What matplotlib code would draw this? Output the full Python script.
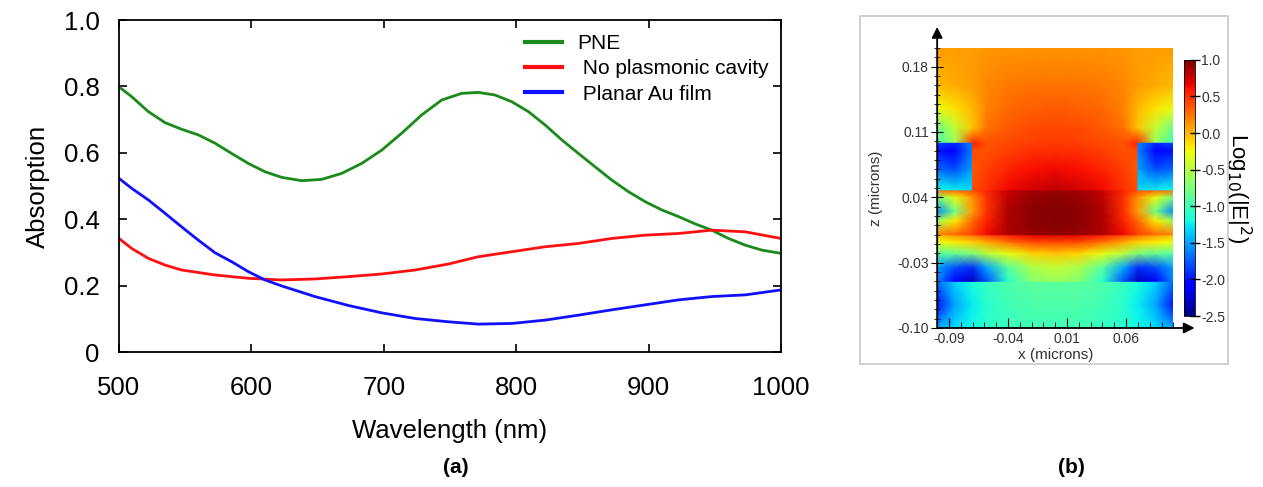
import matplotlib.pyplot as plt
import numpy as np
from matplotlib.patches import Rectangle
from matplotlib.ticker import MultipleLocator

plt.rcParams['font.family'] = ['Liberation Sans', 'DejaVu Sans']

# ---- panel (a): absorption spectra ----
wl_pne = [500, 509.6, 522.2, 534.7, 547.3, 559.9, 572.5, 585.1, 597.7, 610.3,
          622.9, 638, 653.1, 668.2, 683.3, 698.4, 713.5, 728.6, 743.7, 758.8,
          771.4, 784, 796.6, 809.2, 821.8, 834.4, 847, 859.5, 872.1, 884.7,
          897.3, 909.9, 922.5, 935.1, 947.7, 960.3, 972.9, 985.4, 1000]
abs_pne = [0.799, 0.769, 0.724, 0.691, 0.671, 0.654, 0.629, 0.598, 0.568, 0.543,
           0.526, 0.516, 0.520, 0.538, 0.568, 0.608, 0.659, 0.714, 0.759, 0.779,
           0.782, 0.774, 0.754, 0.724, 0.684, 0.639, 0.598, 0.558, 0.518, 0.483,
           0.453, 0.428, 0.408, 0.386, 0.367, 0.342, 0.322, 0.307, 0.297]

wl_nocav = [500, 509.6, 522.2, 534.7, 547.3, 572.5, 597.7, 622.9, 648, 673.4,
            698.4, 723.6, 748.8, 771.4, 796.6, 821.8, 847, 872.1, 897.3, 922.5,
            947.7, 972.9, 1000]
abs_nocav = [0.342, 0.312, 0.282, 0.262, 0.247, 0.232, 0.222, 0.217, 0.220,
             0.227, 0.235, 0.247, 0.265, 0.287, 0.302, 0.317, 0.327, 0.342,
             0.352, 0.357, 0.367, 0.362, 0.342]

wl_planar = [500, 509.6, 522.2, 534.7, 547.3, 559.9, 572.5, 585.1, 597.7, 610.3,
             622.9, 648, 673.4, 698.4, 723.6, 748.8, 771.4, 796.6, 821.8, 847,
             872.1, 897.3, 922.5, 947.7, 972.9, 1000]
abs_planar = [0.523, 0.493, 0.458, 0.418, 0.377, 0.337, 0.299, 0.272, 0.242,
              0.217, 0.199, 0.167, 0.140, 0.118, 0.101, 0.091, 0.084, 0.086,
              0.096, 0.111, 0.127, 0.142, 0.157, 0.167, 0.172, 0.187]

series_labels = ['PNE', ' No plasmonic cavity', ' Planar Au film']
series_colors = ['#1a8a1a', '#ff1010', '#1010ff']

# ---- panel (b): log10(|E|^2) field map, sampled on a coarse grid ----
# left half of the cell; the right half is the mirror image
x_half = [-0.1, -0.085, -0.07, -0.07, -0.058, -0.04, -0.02, 0.0]
z_nodes = [-0.1, -0.075, -0.05, -0.05, -0.035, -0.02, -0.008, 0.0, 0.0,
           0.015, 0.025, 0.04, 0.048, 0.048, 0.07, 0.09, 0.099, 0.099,
           0.115, 0.135, 0.16, 0.2]
field_half = [
    [-1.5, -1.3, -1.2, -1.2, -1.1, -1.05, -1.0, -1.0],
    [-2.0, -1.5, -1.25, -1.25, -1.1, -1.0, -0.95, -0.95],
    [-1.7, -1.35, -1.15, -1.15, -1.05, -0.95, -0.9, -0.9],
    [-1.6, -2.1, -2.3, -2.3, -1.8, -1.1, -0.7, -0.6],
    [-1.5, -1.8, -1.9, -1.9, -1.5, -0.9, -0.55, -0.45],
    [-0.9, -0.85, -0.75, -0.75, -0.5, -0.3, -0.1, -0.05],
    [-0.3, -0.2, -0.1, -0.1, 0.05, 0.25, 0.4, 0.42],
    [0.0, 0.15, 0.3, 0.3, 0.45, 0.6, 0.68, 0.7],
    [0.2, 0.3, 0.45, 0.45, 0.65, 0.85, 0.92, 0.95],
    [-0.6, -0.2, 0.3, 0.3, 0.55, 0.85, 0.95, 0.98],
    [-1.6, -0.8, 0.1, 0.1, 0.5, 0.85, 0.95, 0.98],
    [-0.8, -0.3, 0.15, 0.15, 0.5, 0.8, 0.92, 0.95],
    [0.3, 0.35, 0.4, 0.4, 0.55, 0.78, 0.88, 0.9],
    [-1.2, -1.25, -1.3, 0.4, 0.5, 0.65, 0.75, 0.8],
    [-1.7, -1.8, -1.5, 0.35, 0.45, 0.55, 0.62, 0.65],
    [-2.0, -2.1, -1.6, 0.4, 0.38, 0.45, 0.5, 0.52],
    [-1.8, -1.9, -1.6, 0.6, 0.38, 0.4, 0.45, 0.47],
    [-1.0, -0.6, 0.5, 0.5, 0.38, 0.4, 0.45, 0.47],
    [-0.8, -0.45, -0.05, -0.05, 0.25, 0.35, 0.4, 0.42],
    [-0.3, -0.15, 0.0, 0.0, 0.2, 0.3, 0.33, 0.35],
    [0.0, 0.05, 0.1, 0.1, 0.18, 0.23, 0.25, 0.26],
    [0.1, 0.1, 0.1, 0.1, 0.12, 0.13, 0.13, 0.13],
]
cbar_ticks = [1.0, 0.5, 0.0, -0.5, -1.0, -1.5, -2.0, -2.5]
z_ticks = [-0.10, -0.03, 0.04, 0.11, 0.18]
x_ticks = [-0.09, -0.04, 0.01, 0.06]

fig = plt.figure(figsize=(12.63, 4.87), dpi=100)

# ================= (a) =================
ax = fig.add_axes([0.0942, 0.2772, 0.5242, 0.6817])
for wl, ab, lab, col in zip([wl_pne, wl_nocav, wl_planar],
                            [abs_pne, abs_nocav, abs_planar],
                            series_labels, series_colors):
    ax.plot(wl, ab, color=col, lw=2.0, label=lab)

ax.set_xlim(500, 1000)
ax.set_ylim(0, 1.0)
ax.set_xticks([500, 600, 700, 800, 900, 1000])
ax.set_yticks([0, 0.2, 0.4, 0.6, 0.8, 1.0])
ax.set_yticklabels(['0', '0.2', '0.4', '0.6', '0.8', '1.0'])
ax.tick_params(direction='in', length=6, width=1.2, labelsize=18.5,
               top=True, right=True)
ax.tick_params(axis='x', pad=17)
ax.tick_params(axis='y', pad=14)
for s in ax.spines.values():
    s.set_linewidth(1.3)
ax.set_xlabel('Wavelength (nm)', fontsize=18.5, labelpad=14)
ax.set_ylabel('Absorption', fontsize=18.5, labelpad=10)

leg = ax.legend(loc='upper right', bbox_to_anchor=(1.0, 0.995), frameon=False,
                fontsize=15, handlelength=1.8, handletextpad=0.7,
                labelspacing=0.3, borderaxespad=0.2)
for h in leg.get_lines():
    h.set_linewidth(3.0)

fig.text(0.361, 0.028, '(a)', fontsize=15, fontweight='bold', ha='center')

# ================= (b) =================
fig.patches.append(Rectangle((0.681, 0.2526), 0.2913, 0.7144,
                             transform=fig.transFigure, fill=False,
                             edgecolor='#c8c8c8', lw=1.2))

ax2 = fig.add_axes([0.742, 0.3265, 0.187, 0.575])
half = np.array(field_half)
field = np.hstack([half, half[:, -2::-1]])
x_nodes = np.array(x_half + [-v for v in x_half[-2::-1]])
X, Z = np.meshgrid(x_nodes, np.array(z_nodes))
mesh = ax2.pcolormesh(X, Z, field, shading='gouraud', cmap='jet',
                      vmin=-2.5, vmax=1.0, rasterized=True)
ax2.set_xlim(-0.1, 0.1)
ax2.set_ylim(-0.1, 0.2)
for s in ax2.spines.values():
    s.set_visible(False)
ax2.annotate('', xy=(0, 1.075), xytext=(0, 0), xycoords='axes fraction',
             arrowprops=dict(arrowstyle='-|>', color='black', lw=1.3,
                             mutation_scale=16, shrinkA=0, shrinkB=0))
ax2.annotate('', xy=(1.09, 0), xytext=(0, 0), xycoords='axes fraction',
             arrowprops=dict(arrowstyle='-|>', color='black', lw=1.3,
                             mutation_scale=16, shrinkA=0, shrinkB=0))
ax2.set_xticks(x_ticks)
ax2.set_xticklabels(['%.2f' % v for v in x_ticks])
ax2.set_yticks(z_ticks)
ax2.set_yticklabels(['%.2f' % v for v in z_ticks])
ax2.xaxis.set_minor_locator(MultipleLocator(0.01))
ax2.yaxis.set_minor_locator(MultipleLocator(0.01))
ax2.tick_params(axis='y', which='major', direction='inout', length=8,
                labelsize=10, labelcolor='#333333', pad=2)
ax2.tick_params(axis='x', which='major', direction='in', length=7,
                labelsize=10, labelcolor='#333333', pad=3)
ax2.tick_params(axis='y', which='minor', direction='inout', length=4)
ax2.tick_params(axis='x', which='minor', direction='in', length=4)
ax2.set_xlabel('x (microns)', fontsize=11, color='#333333', labelpad=1)
ax2.set_ylabel('z (microns)', fontsize=11, color='#333333', labelpad=10)

cax = fig.add_axes([0.9375, 0.351, 0.0087, 0.526])
cb = fig.colorbar(mesh, cax=cax, ticks=cbar_ticks)
cb.ax.set_yticklabels(['%.1f' % v for v in cbar_ticks])
cb.ax.tick_params(direction='inout', length=7, width=1.0, labelsize=10,
                  labelcolor='#333333', pad=1)
cb.outline.set_linewidth(0.6)
cb.set_label('Log$_{10}$(|E|$^2$)', rotation=270, fontsize=16, labelpad=20)

fig.text(0.848, 0.028, '(b)', fontsize=15, fontweight='bold', ha='center')

fig.savefig('out.png', dpi=100, facecolor='white')
